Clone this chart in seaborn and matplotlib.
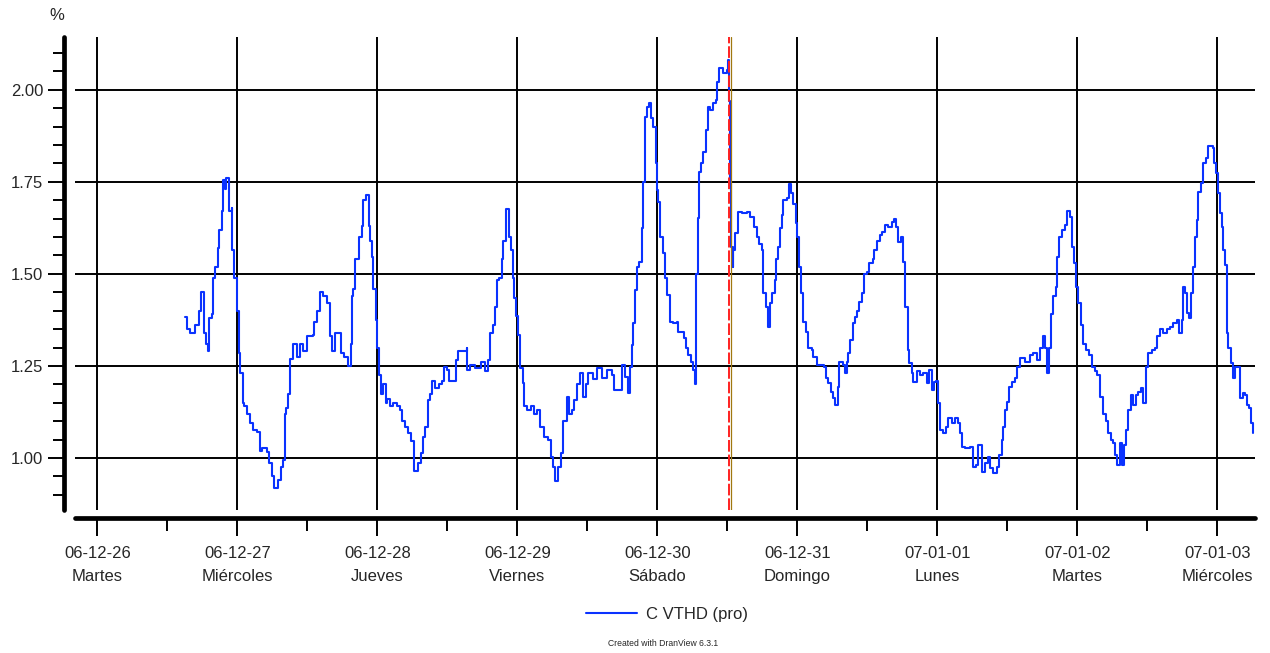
import matplotlib
matplotlib.use("Agg")
import matplotlib.pyplot as plt
from matplotlib.ticker import FixedLocator, MultipleLocator, NullFormatter
import numpy as np
import pandas as pd
import seaborn as sns

# Hours since 2006-12-26 00:00 and the measured voltage THD (%)
hours = [
    15.1, 15.4, 15.9, 16.3, 16.8, 17.3, 17.5, 17.8, 18.2, 18.3, 18.7, 19.0, 19.2, 19.7, 19.9,
    20.2, 20.6, 20.9, 21.3, 21.5, 21.9, 22.1, 22.5, 23.0, 23.1, 23.5, 24.0, 24.2, 24.5, 24.9,
    25.2, 25.7, 26.2, 26.7, 27.4, 27.8, 28.3, 29.1, 29.5, 30.0, 30.3, 30.9, 31.4, 31.9, 32.1,
    32.4, 32.7, 33.1, 33.6, 34.3, 34.8, 35.3, 36.0, 36.9, 37.2, 37.7, 38.1, 38.7, 39.4, 39.8,
    40.3, 40.8, 41.3, 41.7, 42.2, 42.9, 43.4, 43.7, 43.9, 44.2, 44.6, 44.9, 45.4, 45.6, 46.1,
    46.5, 46.8, 47.1, 47.3, 47.7, 48.0, 48.2, 48.7, 49.0, 49.4, 49.7, 50.2, 50.7, 51.4, 51.9,
    52.3, 52.8, 53.3, 53.8, 54.2, 54.3, 54.9, 55.4, 55.9, 56.2, 56.6, 57.1, 57.4, 57.9, 58.5,
    59.1, 59.5, 60.0, 60.3, 61.0, 61.5, 61.9, 62.7, 63.3, 63.4, 63.9, 64.8, 65.7, 66.5, 67.0,
    67.4, 67.9, 68.2, 68.6, 68.9, 69.4, 69.6, 70.1, 70.5, 71.0, 71.3, 71.5, 71.8, 72.2, 72.5,
    73.0, 73.2, 73.7, 74.4, 74.9, 75.4, 75.9, 76.5, 77.3, 77.8, 78.2, 78.5, 79.0, 79.5, 79.9,
    80.6, 80.9, 81.4, 81.8, 82.3, 82.8, 83.3, 83.8, 84.2, 84.5, 85.0, 85.7, 86.6, 87.4, 88.3,
    88.6, 89.7, 90.0, 90.5, 90.9, 91.4, 91.7, 91.9, 92.2, 92.6, 92.9, 93.3, 93.6, 93.9, 94.3,
    94.6, 95.0, 95.3, 95.7, 96.0, 96.2, 96.5, 97.0, 97.4, 97.7, 98.1, 98.7, 99.4, 99.6, 100.3,
    100.5, 101.0, 101.3, 101.7, 102.2, 102.5, 102.7, 102.9, 103.2, 103.5, 103.9, 104.4, 104.7,
    105.1, 105.6, 106.1, 106.3, 106.6, 107.3, 108.0, 108.2, 108.3, 108.5, 108.7, 108.9, 109.0,
    109.4, 109.9, 110.6, 111.4, 111.9, 112.5, 113.1, 113.5, 114.0, 114.2, 114.7, 115.0, 115.4,
    115.7, 116.1, 116.4, 116.7, 117.1, 117.4, 117.6, 118.3, 118.5, 119.0, 119.3, 119.7, 120.0,
    120.3, 120.7, 121.0, 121.5, 121.9, 122.6, 122.7, 123.3, 123.9, 124.5, 125.0, 125.3, 125.7,
    126.2, 126.5, 126.9, 127.2, 127.9, 128.2, 128.6, 128.7, 129.1, 129.6, 129.9, 130.3, 130.6,
    131.1, 131.5, 132.0, 132.3, 132.9, 133.2, 133.7, 134.1, 134.6, 135.1, 135.6, 136.3, 136.5,
    137.0, 137.3, 137.8, 138.2, 138.5, 138.9, 139.2, 139.7, 139.9, 140.6, 141.1, 141.6, 142.3,
    142.6, 143.1, 143.5, 143.8, 144.2, 144.5, 145.0, 145.5, 145.9, 146.6, 147.1, 147.6, 147.9,
    148.3, 148.8, 149.7, 150.2, 150.7, 151.0, 151.7, 152.2, 152.7, 153.1, 153.6, 154.3, 154.6,
    155.1, 155.3, 155.7, 156.0, 156.3, 156.9, 157.4, 157.7, 158.2, 159.1, 159.9, 160.5, 161.1,
    161.7, 162.2, 162.5, 162.9, 163.2, 163.5, 163.9, 164.4, 164.6, 164.9, 165.4, 165.9, 166.3,
    166.8, 167.1, 167.5, 167.8, 168.2, 168.7, 169.0, 169.5, 170.1, 170.6, 171.1, 171.4, 171.9,
    172.5, 173.0, 173.3, 173.8, 174.2, 174.5, 174.9, 175.4, 175.7, 176.1, 176.4, 176.7, 177.3,
    177.6, 178.1, 178.5, 179.0, 179.3, 179.8, 180.2, 180.9, 181.4, 181.7, 182.2, 182.7, 183.4,
    183.9, 184.5, 185.1, 185.5, 186.0, 186.2, 186.5, 186.9, 187.2, 187.5, 187.9, 188.2, 188.6,
    188.7, 189.3, 189.6, 190.1, 190.5, 191.3, 191.5, 191.8, 192.2, 192.5, 192.9, 193.0, 193.4,
    193.7, 193.9, 194.4, 194.7, 195.1, 195.6, 195.9, 196.5, 196.8, 197.1, 197.5, 197.8, 198.2,
]
thd = [
    1.384, 1.35, 1.34, 1.34, 1.36, 1.36, 1.40, 1.45, 1.45, 1.34, 1.31, 1.29, 1.38, 1.39, 1.49,
    1.52, 1.57, 1.62, 1.67, 1.755, 1.73, 1.76, 1.67, 1.68, 1.565, 1.49, 1.40, 1.285, 1.23, 1.15,
    1.14, 1.12, 1.095, 1.076, 1.07, 1.02, 1.027, 1.016, 0.986, 0.95, 0.92, 0.94, 0.976, 0.995, 1.12,
    1.135, 1.175, 1.27, 1.31, 1.275, 1.31, 1.29, 1.33, 1.335, 1.37, 1.40, 1.45, 1.44, 1.42, 1.33,
    1.29, 1.34, 1.34, 1.285, 1.275, 1.25, 1.31, 1.44, 1.46, 1.54, 1.54, 1.60, 1.63, 1.70, 1.715,
    1.63, 1.59, 1.545, 1.46, 1.375, 1.30, 1.225, 1.175, 1.20, 1.15, 1.16, 1.14, 1.15, 1.14, 1.13,
    1.10, 1.085, 1.068, 1.045, 0.986, 0.965, 0.986, 1.013, 1.057, 1.084, 1.157, 1.175, 1.21, 1.19, 1.20,
    1.21, 1.246, 1.24, 1.21, 1.21, 1.266, 1.29, 1.29, 1.30, 1.24, 1.253, 1.245, 1.26, 1.235, 1.266,
    1.34, 1.36, 1.41, 1.484, 1.49, 1.54, 1.59, 1.675, 1.60, 1.565, 1.49, 1.435, 1.385, 1.335, 1.245,
    1.205, 1.14, 1.13, 1.14, 1.12, 1.13, 1.084, 1.057, 1.05, 1.003, 0.976, 0.937, 0.976, 1.013, 1.10,
    1.166, 1.12, 1.13, 1.157, 1.20, 1.23, 1.166, 1.20, 1.23, 1.23, 1.215, 1.245, 1.217, 1.24, 1.225,
    1.185, 1.185, 1.253, 1.22, 1.177, 1.247, 1.307, 1.367, 1.456, 1.52, 1.533, 1.625, 1.75, 1.927, 1.954,
    1.965, 1.924, 1.90, 1.80, 1.728, 1.696, 1.60, 1.556, 1.49, 1.443, 1.37, 1.367, 1.37, 1.343, 1.343,
    1.326, 1.30, 1.28, 1.26, 1.24, 1.20, 1.50, 1.652, 1.777, 1.80, 1.83, 1.89, 1.954,
    1.946, 1.965, 1.973, 2.02, 2.06, 2.046, 2.054, 2.08, 1.97, 1.747, 1.573, 1.52, 1.565,
    1.61, 1.668, 1.665, 1.668, 1.655, 1.628, 1.60, 1.58, 1.565, 1.448, 1.41, 1.356, 1.42,
    1.448, 1.484, 1.54, 1.573, 1.625, 1.66, 1.70, 1.705, 1.745, 1.72, 1.69, 1.638, 1.60,
    1.52, 1.448, 1.37, 1.343, 1.30, 1.293, 1.275, 1.253, 1.253, 1.247, 1.217, 1.204, 1.18,
    1.163, 1.144, 1.193, 1.26, 1.253, 1.23, 1.26, 1.285, 1.32, 1.367, 1.384, 1.40, 1.424,
    1.448, 1.50, 1.506, 1.53, 1.54, 1.565, 1.59, 1.606, 1.615, 1.633, 1.628, 1.64, 1.65,
    1.628, 1.587, 1.60, 1.533, 1.41, 1.293, 1.258, 1.23, 1.207, 1.235, 1.225, 1.23, 1.204,
    1.24, 1.185, 1.207, 1.21, 1.15, 1.076, 1.068, 1.084, 1.108, 1.095, 1.108, 1.095, 1.068,
    1.03, 1.027, 1.03, 0.976, 0.98, 1.035, 0.962, 0.986, 1.003, 0.973, 0.96, 0.976, 1.008,
    1.05, 1.084, 1.13, 1.152, 1.193, 1.207, 1.217, 1.247, 1.272, 1.26, 1.28, 1.285, 1.266,
    1.30, 1.33, 1.30, 1.23, 1.30, 1.39, 1.44, 1.465, 1.546, 1.60, 1.62, 1.633, 1.67,
    1.655, 1.573, 1.53, 1.465, 1.42, 1.36, 1.31, 1.293, 1.28, 1.247, 1.235, 1.225, 1.166,
    1.12, 1.10, 1.068, 1.05, 1.04, 1.008, 0.98, 1.04, 0.98, 1.035, 1.076, 1.13, 1.17,
    1.144, 1.17, 1.18, 1.19, 1.15, 1.247, 1.285, 1.293, 1.30, 1.33, 1.35, 1.34, 1.35,
    1.356, 1.367, 1.375, 1.34, 1.375, 1.465, 1.448, 1.394, 1.38, 1.448, 1.52, 1.60, 1.647,
    1.723, 1.747, 1.80, 1.815, 1.846, 1.842, 1.80, 1.774, 1.72, 1.665, 1.628, 1.565, 1.524,
    1.34, 1.30, 1.258, 1.217, 1.247, 1.247, 1.163, 1.177, 1.17, 1.144, 1.136, 1.095, 1.068,
]

day_dates = ["06-12-26", "06-12-27", "06-12-28", "06-12-29", "06-12-30",
             "06-12-31", "07-01-01", "07-01-02", "07-01-03"]
day_names = ["Martes", "Miércoles", "Jueves", "Viernes", "Sábado",
             "Domingo", "Lunes", "Martes", "Miércoles"]
y_major = [1.00, 1.25, 1.50, 1.75, 2.00]
cursor_hours = [108.35, 108.6]
series_name = "C VTHD (pro)"

df = pd.DataFrame({"day": np.array(hours) / 24.0, "thd": thd})

sns.set_style("white")
plt.rcParams["font.family"] = ["Liberation Sans", "DejaVu Sans"]

fig = plt.figure(figsize=(12.7, 6.53), dpi=100)
ax = fig.add_axes([75 / 1270, 1 - 510 / 653, 1180 / 1270, 473 / 653])

sns.lineplot(data=df, x="day", y="thd", ax=ax, estimator=None, sort=False,
             color="#0a32ff", linewidth=1.5, drawstyle="steps-post",
             label=series_name, zorder=3)

# Cursor markers
ax.axvline(cursor_hours[1] / 24.0, color="#a07810", lw=0.9, zorder=4)
ax.axvline(cursor_hours[0] / 24.0, color="#ff2020", lw=1.4,
           linestyle=(0, (6, 1.5)), zorder=5)

ax.set_xlim(-0.16, 8.27)
ax.set_ylim(0.859, 2.143)

# Grid
ax.set_axisbelow(True)
for d in range(len(day_dates)):
    ax.axvline(d, color="black", lw=1.4, zorder=1)
for v in y_major:
    ax.axhline(v, color="black", lw=1.4, zorder=1)

# Axes / spines
for s in ["top", "right"]:
    ax.spines[s].set_visible(False)
ax.spines["left"].set_position(("outward", 8))
ax.spines["bottom"].set_position(("outward", 6))
for s in ["left", "bottom"]:
    ax.spines[s].set_linewidth(3.4)
    ax.spines[s].set_color("black")
    ax.spines[s].set_capstyle("round")

ax.xaxis.set_major_locator(FixedLocator(range(len(day_dates))))
ax.set_xticklabels([f"{d}\n{n}" for d, n in zip(day_dates, day_names)],
                   fontsize=12, linespacing=1.65)
ax.xaxis.set_minor_locator(MultipleLocator(0.5))
ax.xaxis.set_minor_formatter(NullFormatter())

ax.yaxis.set_major_locator(FixedLocator(y_major))
ax.set_yticklabels([f"{v:.2f}" for v in y_major], fontsize=12)
ax.yaxis.set_minor_locator(MultipleLocator(0.05))

ax.tick_params(axis="both", which="major", direction="out", color="black",
               width=1.4, bottom=True, left=True)
ax.tick_params(axis="x", which="major", length=13, pad=7)
ax.tick_params(axis="x", which="minor", length=9.5, width=1.4, bottom=True,
               direction="out", color="black")
ax.tick_params(axis="y", which="major", length=11.5, pad=3.5)
ax.tick_params(axis="y", which="minor", length=8, width=1.4, left=True,
               direction="out", color="black")

ax.set_xlabel("")
ax.set_ylabel("")

fig.text(57 / 1270, 1 - 15 / 653, "%", fontsize=12, ha="center", va="center")

leg = ax.legend(loc="center", bbox_to_anchor=(0.5 * (588 + 745) / 1270, 1 - 614 / 653),
                bbox_transform=fig.transFigure, frameon=False, fontsize=12,
                handlelength=3.1, handletextpad=0.5)

fig.text(663 / 1270, 1 - 644 / 653, "Created with DranView 6.3.1",
         fontsize=6.2, ha="center", va="center")

fig.savefig("out.png", dpi=100)
